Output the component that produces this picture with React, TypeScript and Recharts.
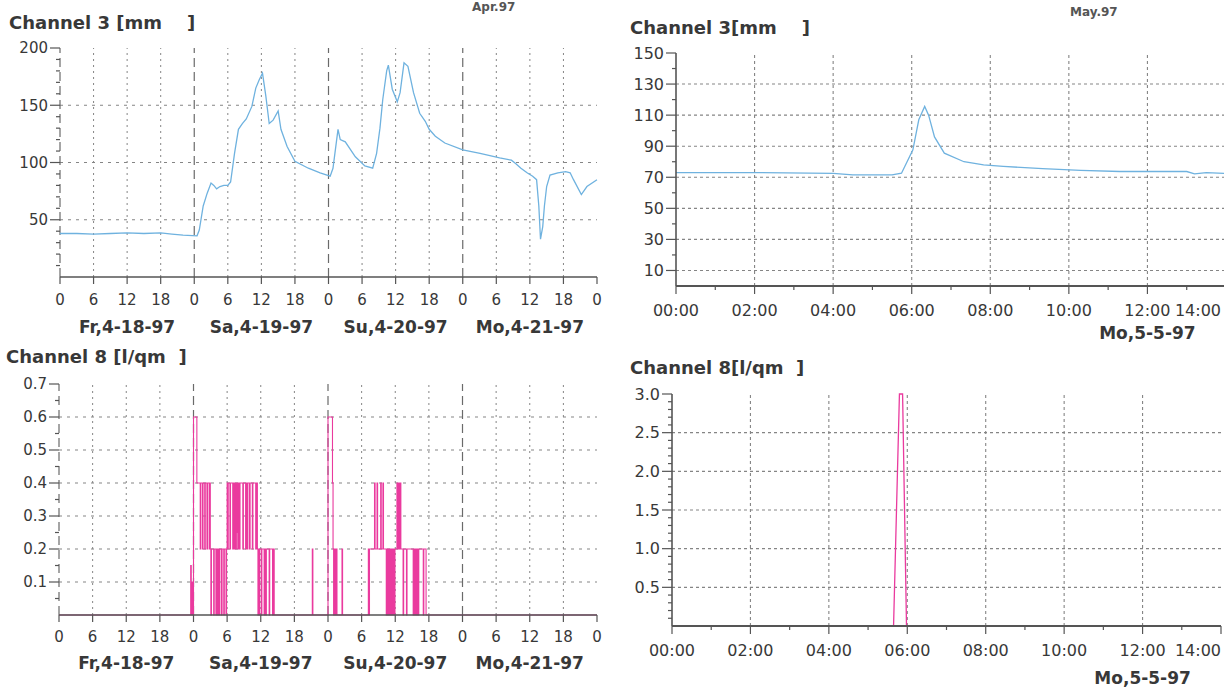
import React from 'react';
import { LineChart, Line, XAxis, YAxis, ReferenceLine } from 'recharts';

const FONT = '"DejaVu Sans", Verdana, sans-serif';
const INK = '#383838';
const AXIS_COLOR = '#555555';
const GRID_COLOR = '#858585';
const DAY_COLOR = '#6a6a6a';
const BLUE = '#6fb2df';
const PINK = '#ea3a9e';

// ---------- April panels (4 days, hours since Fr 0:00) ----------
const aprDayLabels = ['Fr,4-18-97', 'Sa,4-19-97', 'Su,4-20-97', 'Mo,4-21-97'];
const aprHourTicks = [0, 6, 12, 18, 24, 30, 36, 42, 48, 54, 60, 66, 72, 78, 84, 90, 96];
const aprDayLines = [0, 24, 48, 72];
const aprGridHours = [6, 12, 18, 30, 36, 42, 54, 60, 66, 78, 84, 90];

const aprCh3Hours = [0, 3, 6, 9, 12, 15, 18, 20, 22, 24.5, 24.9, 25.6, 26.3, 27, 27.5, 28, 28.6, 29.3, 30, 30.5,
  31.2, 31.9, 32.6, 33.3, 34.3, 35, 35.6, 36.2, 36.8, 37.4, 38.1, 39, 39.5, 40.6, 42, 44.4, 46.5, 48.3, 48.8, 49.7,
  50.1, 51, 52.8, 54.5, 55.9, 56.6, 57.2, 57.7, 58.4, 58.7, 59.4, 60.3, 60.8, 61.5, 62.2, 63.2, 64.3, 65.3, 66, 67.1,
  68.8, 72, 75.1, 78.6, 80.7, 81.5, 82.4, 83.5, 84.5, 85.2, 85.6, 85.9, 86.3, 86.6, 87, 87.6, 89, 90.4, 91.2, 91.8,
  93.2, 94.2, 96];
const aprCh3Values = [38, 38, 37.5, 38, 38.5, 38, 38.5, 37.5, 36.5, 36, 41, 62, 73, 82, 80, 77, 79, 80, 80, 83,
  108, 129, 134, 138, 149, 165, 172, 178, 158, 134, 137, 145, 129, 114, 101, 95, 91, 88, 95, 129,
  120, 118, 105, 97, 95, 108, 130, 155, 180, 185, 164, 153, 161, 187, 184, 161, 143, 136, 129, 123,
  117, 111, 108, 104, 102, 99, 95, 91, 88, 85, 62, 33, 44, 62, 79, 89, 91, 92, 91, 85,
  72, 79, 85];
const aprCh3YTicks = [10, 20, 30, 40, 50, 60, 70, 80, 90, 100, 110, 120, 130, 140, 150, 160, 170, 180, 190, 200];
const aprCh3YMajor = [50, 100, 150, 200];
const aprCh3Grid = [50, 100, 150];

const aprCh8Hours = [0, 23.5, 23.6, 23.75, 23.85, 24.0, 24.6, 25.2, 25.3, 25.6, 25.7, 26.0, 26.1, 26.4, 26.5, 26.8,
  26.9, 27.0, 27.1, 27.2, 27.6, 27.7, 28.0, 28.1, 28.3, 28.4, 28.6, 28.7, 29.0, 29.1, 29.4, 29.5, 29.8, 29.9, 30.0,
  30.1, 30.2, 30.5, 30.6, 31.0, 31.1, 31.3, 31.4, 31.5, 31.55, 31.6, 31.65, 31.75, 31.8, 31.9, 32.0, 32.2, 32.3,
  32.8, 32.9, 33.3, 33.4, 33.6, 33.7, 34.0, 34.1, 34.5, 34.6, 35.1, 35.2, 35.4, 35.5, 35.6, 35.7, 35.8, 36.1, 36.2,
  36.6, 36.7, 36.9, 37.0, 37.5, 37.6, 38.1, 38.2, 38.4, 45.2, 45.3, 48.0, 48.8, 48.9, 49.0, 49.2, 49.3, 49.5, 49.6,
  50.5, 50.6, 55.2, 55.3, 55.4, 56.3, 56.4, 56.75, 56.85, 57.4, 57.5, 57.8, 57.9, 58.4, 58.5, 58.6, 58.7, 58.8,
  58.9, 59.0, 59.1, 59.2, 59.3, 59.4, 59.5, 59.6, 59.7, 59.85, 59.95, 60.3, 60.4, 60.6, 60.7, 60.9, 61.0, 61.4,
  61.5, 62.0, 62.1, 63.2, 63.3, 63.5, 63.6, 63.8, 63.9, 64.1, 64.2, 65.0, 65.1, 65.5, 96];
const aprCh8Values = [0, 0.15, 0, 0.1, 0, 0.6, 0.4, 0.2, 0.4, 0.2, 0.4, 0.2, 0.4, 0.2, 0.4, 0.2,
  0.4, 0.2, 0, 0.2, 0, 0.2, 0, 0.2, 0, 0.2, 0, 0.2, 0, 0.2, 0, 0.2, 0, 0.2, 0.4,
  0.2, 0.4, 0.2, 0.4, 0.2, 0.4, 0.2, 0.4, 0.25, 0.4, 0.2, 0.4, 0.25, 0.4, 0.2, 0.4, 0.2, 0.4,
  0.2, 0.4, 0.2, 0.4, 0.2, 0.4, 0.2, 0.4, 0.2, 0.4, 0.2, 0.4, 0.2, 0, 0.2, 0, 0.2, 0, 0.2,
  0, 0.2, 0, 0.2, 0, 0.2, 0, 0.2, 0, 0.2, 0, 0.6, 0.4, 0.2, 0, 0.2, 0, 0.2, 0,
  0.2, 0, 0.2, 0, 0.2, 0.4, 0.2, 0.4, 0.2, 0.4, 0.2, 0.4, 0.2, 0, 0.2, 0, 0.2, 0,
  0.2, 0, 0.2, 0, 0.2, 0, 0.2, 0, 0.2, 0, 0.2, 0.4, 0.2, 0.4, 0.2, 0.4, 0.2, 0,
  0.2, 0, 0.2, 0, 0.2, 0, 0.2, 0, 0.2, 0, 0.2, 0, 0.2, 0, 0];
const aprCh8YTicks = [0.05, 0.1, 0.15, 0.2, 0.25, 0.3, 0.35, 0.4, 0.45, 0.5, 0.55, 0.6, 0.65, 0.7];
const aprCh8YMajor = [0.1, 0.2, 0.3, 0.4, 0.5, 0.6, 0.7];
const aprCh8Grid = [0.1, 0.2, 0.3, 0.4, 0.5, 0.6];

// ---------- May panels (hours since Mo 0:00) ----------
const mayDateLabel = 'Mo,5-5-97';
const mayHourTicks = [0, 1, 2, 3, 4, 5, 6, 7, 8, 9, 10, 11, 12, 13, 14];
const mayMajorHours = [0, 2, 4, 6, 8, 10, 12, 14];
const mayGridHours = [2, 4, 6, 8, 10, 12];

const mayCh3Hours = [0, 2, 4, 4.5, 5.5, 5.74, 6.03, 6.18, 6.33, 6.43, 6.58, 6.83, 7.33, 7.83, 8.33, 9.33, 10.3, 11.3,
  13, 13.2, 13.5, 14];
const mayCh3Values = [73, 73, 72.5, 71.5, 71.5, 72.6, 87.7, 107, 115.6, 110, 96, 85.5, 80, 78, 77, 75.5, 74.4, 73.7,
  73.7, 72.2, 73, 72.5];
const mayCh3YTicks = [10, 20, 30, 40, 50, 60, 70, 80, 90, 100, 110, 120, 130, 140, 150];
const mayCh3YMajor = [10, 30, 50, 70, 90, 110, 130, 150];
const mayCh3Grid = [10, 30, 50, 70, 90, 110, 130];

const mayCh8Hours = [0, 5.65, 5.8, 5.88, 5.98, 14];
const mayCh8Values = [0, 0, 3.0, 3.0, 0, 0];
const mayCh8YTicks = [0.1, 0.2, 0.3, 0.4, 0.5, 0.6, 0.7, 0.8, 0.9, 1.0, 1.1, 1.2, 1.3, 1.4, 1.5, 1.6, 1.7, 1.8,
  1.9, 2.0, 2.1, 2.2, 2.3, 2.4, 2.5, 2.6, 2.7, 2.8, 2.9, 3.0];
const mayCh8YMajor = [0.5, 1.0, 1.5, 2.0, 2.5, 3.0];
const mayCh8Grid = [0.5, 1.0, 1.5, 2.0, 2.5];

const toRows = (hours: number[], values: number[]) => hours.map((h, i) => ({ h, v: values[i] }));
const aprCh3Data = toRows(aprCh3Hours, aprCh3Values);
const aprCh8Data = toRows(aprCh8Hours, aprCh8Values);
const mayCh3Data = toRows(mayCh3Hours, mayCh3Values);
const mayCh8Data = toRows(mayCh8Hours, mayCh8Values);

const isIn = (list: number[], v: number) => list.some((m) => Math.abs(m - v) < 1e-6);

function makeYTick(majors: number[], fmt: (v: number) => string, fontSize: number) {
  return (props: any) => {
    const x = props.x as number;
    const y = props.y as number;
    const v = props.payload.value as number;
    const major = isIn(majors, v);
    return (
      <g>
        <line x1={x - (major ? 10 : 4)} x2={x} y1={y} y2={y} stroke={AXIS_COLOR} strokeWidth={1.2} />
        {major ? (
          <text x={x - 12} y={y} dy="0.36em" textAnchor="end" fontSize={fontSize} fontFamily={FONT} fill={INK}>
            {fmt(v)}
          </text>
        ) : null}
      </g>
    );
  };
}

function makeAprXTick(labelOffset: number, dateOffset: number) {
  return (props: any) => {
    const x = props.x as number;
    const y = props.y as number;
    const v = props.payload.value as number;
    const hour = v % 24;
    return (
      <g>
        <line x1={x} x2={x} y1={y} y2={y + 7} stroke={AXIS_COLOR} strokeWidth={1.2} />
        <text x={x} y={y + labelOffset} dy="0.36em" textAnchor="middle" fontSize={15} fontFamily={FONT} fill={INK}>
          {String(hour)}
        </text>
        {hour === 12 ? (
          <text x={x} y={y + dateOffset} dy="0.36em" textAnchor="middle" fontSize={17} fontWeight="bold" fontFamily={FONT} fill={INK}>
            {aprDayLabels[Math.floor(v / 24)]}
          </text>
        ) : null}
      </g>
    );
  };
}

// lastLabelRight: the x (chart coords) where the last tick label must end so it stays on the page
function makeMayXTick(labelOffset: number, dateOffset: number, lastLabelRight: number) {
  return (props: any) => {
    const x = props.x as number;
    const y = props.y as number;
    const v = props.payload.value as number;
    const major = isIn(mayMajorHours, v);
    const label = (v < 10 ? '0' : '') + String(v) + ':00';
    const isLast = v === 14;
    return (
      <g>
        <line x1={x} x2={x} y1={y} y2={y + (major ? 8 : 4)} stroke={AXIS_COLOR} strokeWidth={1.2} />
        {major ? (
          <text
            x={isLast ? lastLabelRight : x}
            y={y + labelOffset}
            dy="0.36em"
            textAnchor={isLast ? 'end' : 'middle'}
            fontSize={16}
            fontFamily={FONT}
            fill={INK}
          >
            {label}
          </text>
        ) : null}
        {v === 12 ? (
          <text x={x} y={y + dateOffset} dy="0.36em" textAnchor="middle" fontSize={17} fontWeight="bold" fontFamily={FONT} fill={INK}>
            {mayDateLabel}
          </text>
        ) : null}
      </g>
    );
  };
}

function makeTopTick(majors: number[] | null) {
  return (props: any) => {
    const x = props.x as number;
    const y = props.y as number;
    const v = props.payload.value as number;
    const major = majors === null || isIn(majors, v);
    return <line x1={x} x2={x} y1={y - (major ? 8 : 5)} y2={y + (major ? 4 : 2)} stroke={AXIS_COLOR} strokeWidth={1.2} />;
  };
}

const fmtInt = (v: number) => String(Math.round(v));
const fmt1 = (v: number) => v.toFixed(1);

const titleStyle = (left: number, top: number): React.CSSProperties => ({
  position: 'absolute',
  left,
  top,
  fontFamily: FONT,
  fontWeight: 'bold',
  fontSize: 18,
  lineHeight: '18px',
  color: INK,
  whiteSpace: 'pre',
});

const headerStyle = (left: number, top: number): React.CSSProperties => ({
  position: 'absolute',
  left,
  top,
  fontFamily: FONT,
  fontWeight: 'bold',
  fontSize: 12,
  lineHeight: '12px',
  color: '#555',
});

export default function App() {
  return (
    <div style={{ position: 'fixed', left: 0, top: 0, width: 1224, height: 688, overflow: 'hidden', background: '#ffffff' }}>
      {/* header fragments at the top edge of the scan */}
      <div style={headerStyle(472, 1)}>Apr.97</div>
      <div style={headerStyle(1070, 6)}>May.97</div>

      {/* ---------- left column ---------- */}
      <div style={{ position: 'absolute', left: 0, top: 0, width: 606, height: 688, overflow: 'hidden' }}>
        <div style={titleStyle(9, 14)}>{'Channel 3 [mm    ]'}</div>
        <div style={{ position: 'absolute', left: 0, top: 0 }}>
          <LineChart width={606} height={340} data={aprCh3Data} margin={{ top: 48, right: 9, bottom: 0, left: 0 }}>
            <XAxis xAxisId="top" orientation="top" dataKey="h" type="number" domain={[0, 96]} ticks={aprHourTicks}
              height={0} tickSize={0} tickMargin={0} interval={0} tickLine={false}
              axisLine={{ stroke: AXIS_COLOR, strokeWidth: 1.6 }} tick={makeTopTick(null)} />
            <XAxis dataKey="h" type="number" domain={[0, 96]} ticks={aprHourTicks} height={63} tickSize={0} tickMargin={0}
              interval={0} tickLine={false} axisLine={{ stroke: AXIS_COLOR, strokeWidth: 1.4 }} tick={makeAprXTick(23, 50)} />
            <YAxis type="number" domain={[0, 200]} ticks={aprCh3YTicks} width={60} tickSize={0} tickMargin={0} interval={0}
              tickLine={false} axisLine={false} tick={makeYTick(aprCh3YMajor, fmtInt, 15)} />
            {aprCh3Grid.map((g) => (
              <ReferenceLine key={'gy' + g} y={g} stroke={GRID_COLOR} strokeDasharray="3 5" strokeWidth={1} />
            ))}
            {aprGridHours.map((g) => (
              <ReferenceLine key={'gx' + g} x={g} stroke={GRID_COLOR} strokeDasharray="2 4" strokeWidth={1} />
            ))}
            {aprDayLines.map((g) => (
              <ReferenceLine key={'d' + g} x={g} stroke={DAY_COLOR} strokeDasharray="9 5" strokeWidth={1.2} />
            ))}
            <Line type="linear" dataKey="v" stroke={BLUE} strokeWidth={1.3} dot={false} isAnimationActive={false} />
          </LineChart>
        </div>

        <div style={titleStyle(6, 348)}>{'Channel 8 [l/qm  ]'}</div>
        <div style={{ position: 'absolute', left: 0, top: 340 }}>
          <LineChart width={606} height={348} data={aprCh8Data} margin={{ top: 44, right: 9, bottom: 0, left: 0 }}>
            <XAxis xAxisId="top" orientation="top" dataKey="h" type="number" domain={[0, 96]} ticks={aprHourTicks}
              height={0} tickSize={0} tickMargin={0} interval={0} tickLine={false}
              axisLine={{ stroke: AXIS_COLOR, strokeWidth: 1.6 }} tick={makeTopTick(null)} />
            <XAxis dataKey="h" type="number" domain={[0, 96]} ticks={aprHourTicks} height={73} tickSize={0} tickMargin={0}
              interval={0} tickLine={false} axisLine={{ stroke: AXIS_COLOR, strokeWidth: 1.6 }} tick={makeAprXTick(22, 48)} />
            <YAxis type="number" domain={[0, 0.7]} ticks={aprCh8YTicks} width={59} tickSize={0} tickMargin={0} interval={0}
              tickLine={false} axisLine={false} tick={makeYTick(aprCh8YMajor, fmt1, 15)} />
            {aprCh8Grid.map((g) => (
              <ReferenceLine key={'gy' + g} y={g} stroke={GRID_COLOR} strokeDasharray="3 5" strokeWidth={1} />
            ))}
            {aprGridHours.map((g) => (
              <ReferenceLine key={'gx' + g} x={g} stroke={GRID_COLOR} strokeDasharray="2 4" strokeWidth={1} />
            ))}
            {aprDayLines.map((g) => (
              <ReferenceLine key={'d' + g} x={g} stroke={DAY_COLOR} strokeDasharray="9 5" strokeWidth={1.2} />
            ))}
            <Line type="stepAfter" dataKey="v" stroke={PINK} strokeWidth={1.1} dot={false} isAnimationActive={false} />
          </LineChart>
        </div>
      </div>

      {/* ---------- right column ---------- */}
      <div style={{ position: 'absolute', left: 626, top: 0, width: 598, height: 688, overflow: 'hidden' }}>
        <div style={titleStyle(4, 19)}>{'Channel 3[mm    ]'}</div>
        <div style={{ position: 'absolute', left: -14, top: 0 }}>
          <LineChart width={620} height={350} data={mayCh3Data} margin={{ top: 53, right: 6, bottom: 0, left: 0 }}>
            <XAxis xAxisId="top" orientation="top" dataKey="h" type="number" domain={[0, 14]} ticks={mayHourTicks}
              height={0} tickSize={0} tickMargin={0} interval={0} tickLine={false}
              axisLine={{ stroke: AXIS_COLOR, strokeWidth: 1.8 }} tick={makeTopTick(mayMajorHours)} />
            <XAxis dataKey="h" type="number" domain={[0, 14]} ticks={mayHourTicks} height={64} tickSize={0} tickMargin={0}
              interval={0} tickLine={false} axisLine={{ stroke: AXIS_COLOR, strokeWidth: 2 }} tick={makeMayXTick(24, 47, 609)} />
            <YAxis type="number" domain={[0, 150]} ticks={mayCh3YTicks} width={64} tickSize={0} tickMargin={0} interval={0}
              tickLine={false} axisLine={{ stroke: AXIS_COLOR, strokeWidth: 1.6 }} tick={makeYTick(mayCh3YMajor, fmtInt, 16)} />
            {mayCh3Grid.map((g) => (
              <ReferenceLine key={'gy' + g} y={g} stroke={GRID_COLOR} strokeDasharray="3 3" strokeWidth={1.1} />
            ))}
            {mayGridHours.map((g) => (
              <ReferenceLine key={'gx' + g} x={g} stroke={GRID_COLOR} strokeDasharray="3 3" strokeWidth={1.1} />
            ))}
            <Line type="linear" dataKey="v" stroke={BLUE} strokeWidth={1.3} dot={false} isAnimationActive={false} />
          </LineChart>
        </div>

        <div style={titleStyle(4, 359)}>{'Channel 8[l/qm  ]'}</div>
        <div style={{ position: 'absolute', left: -14, top: 340 }}>
          <LineChart width={620} height={348} data={mayCh8Data} margin={{ top: 54, right: 11, bottom: 0, left: 0 }}>
            <XAxis xAxisId="top" orientation="top" dataKey="h" type="number" domain={[0, 14]} ticks={mayHourTicks}
              height={0} tickSize={0} tickMargin={0} interval={0} tickLine={false}
              axisLine={{ stroke: AXIS_COLOR, strokeWidth: 1.8 }} tick={makeTopTick(mayMajorHours)} />
            <XAxis dataKey="h" type="number" domain={[0, 14]} ticks={mayHourTicks} height={62} tickSize={0} tickMargin={0}
              interval={0} tickLine={false} axisLine={{ stroke: AXIS_COLOR, strokeWidth: 2 }} tick={makeMayXTick(24, 52, 609)} />
            <YAxis type="number" domain={[0, 3]} ticks={mayCh8YTicks} width={60} tickSize={0} tickMargin={0} interval={0}
              tickLine={false} axisLine={{ stroke: AXIS_COLOR, strokeWidth: 1.6 }} tick={makeYTick(mayCh8YMajor, fmt1, 16)} />
            {mayCh8Grid.map((g) => (
              <ReferenceLine key={'gy' + g} y={g} stroke={GRID_COLOR} strokeDasharray="3 3" strokeWidth={1.1} />
            ))}
            {mayGridHours.map((g) => (
              <ReferenceLine key={'gx' + g} x={g} stroke={GRID_COLOR} strokeDasharray="3 3" strokeWidth={1.1} />
            ))}
            <Line type="linear" dataKey="v" stroke={PINK} strokeWidth={1.3} dot={false} isAnimationActive={false} />
          </LineChart>
        </div>
      </div>
    </div>
  );
}
